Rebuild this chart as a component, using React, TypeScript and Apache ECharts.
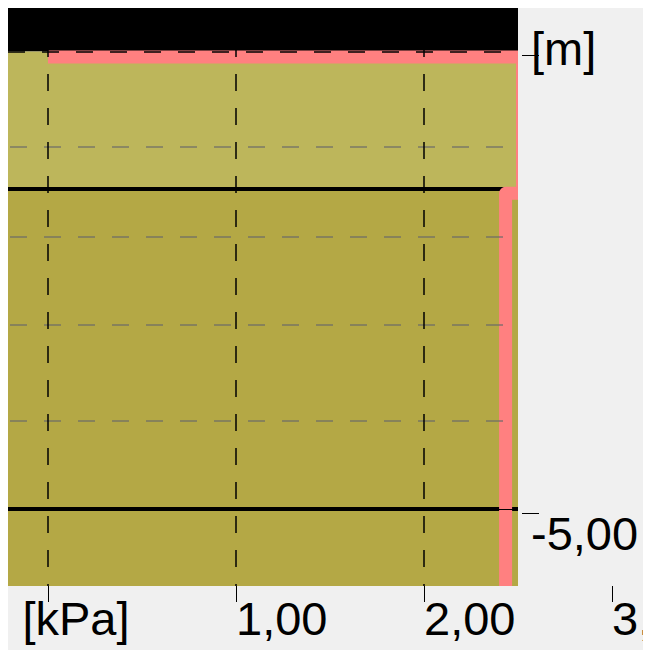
import React, { useEffect, useRef } from 'react';
import * as echarts from 'echarts';

// axis ranges (data units)
const xRange = [-0.2128, 2.5];
const xAxisExtentMax = 3.2021;
const yRange = [-5.84, 0.475];

// ticks & labels
const xTickValues = [0, 1, 2, 3];
const xLabelValues = [1, 2, 3];
const xUnitValue = [0];
const xUnit = '[kPa]';
const yTickValues = [0, -5];
const yLabelValues = [-5];
const yUnitValue = [0];
const yUnit = '[m]';

// grid lines
const xGridValues = [0, 1, 2];
const yGridBlack = [0];
const yGridGray = [-1.04, -2.02, -2.99, -4.03];
const yThinSolid = [-5];

// soil layers
const aboveGround = [0, 0.475];
const layerTops = [0, -1.5];
const layerBottoms = [-1.5, -5.84];
const layerBoundaries = [-1.5, -5];

// pressure diagram
const pressureValue = [0, 2.524, 2.524, 2.434, 2.434];
const pressureDepth = [-0.06, -0.06, -1.55, -1.55, -6.5];

const layerColors = ['#bdb65b', '#b4a845'];
const font = "'Liberation Sans', Arial, sans-serif";

const fmt = (v: number) => v.toFixed(2).replace('.', ',');

export default function App() {
  const ref = useRef<HTMLDivElement>(null);
  useEffect(() => {
    document.documentElement.style.overflow = 'hidden';
    document.body.style.overflow = 'hidden';
    const chart = echarts.init(ref.current!, null, { renderer: 'svg' });
    const labelBase = { color: '#000', fontSize: 47, fontFamily: font };
    const gridBase = { outerBoundsMode: 'none', containLabel: false };
    const noLine = { show: false, onZero: false };
    const option: any = {
      animation: false,
      backgroundColor: '#f0f0f0',
      grid: [
        { ...gridBase, left: 0, top: 0, width: 510, height: 578 },
        { ...gridBase, left: 0, top: 0, width: 642, height: 578 },
        { ...gridBase, left: 4, top: 4, width: 510, height: 578 },
      ],
      xAxis: [
        { gridIndex: 0, type: 'value', min: xRange[0], max: xRange[1], show: false, axisLine: noLine },
        {
          gridIndex: 1, type: 'value', position: 'bottom', min: xRange[0], max: xAxisExtentMax,
          axisLine: noLine, splitLine: { show: false },
          axisTick: { show: true, inside: false, length: 16, customValues: xTickValues, lineStyle: { color: '#000', width: 1 } },
          axisLabel: { ...labelBase, customValues: xLabelValues, formatter: fmt, align: 'left', verticalAlign: 'top', margin: 9 },
        },
        {
          gridIndex: 1, type: 'value', position: 'bottom', offset: 0, min: xRange[0], max: xAxisExtentMax,
          axisLine: noLine, splitLine: { show: false }, axisTick: { show: false },
          axisLabel: { ...labelBase, customValues: xUnitValue, formatter: () => xUnit, align: 'center', verticalAlign: 'top', margin: 9, padding: [0, 0, 0, 56] },
        },
        { gridIndex: 2, type: 'value', min: xRange[0], max: xRange[1], show: false, axisLine: noLine },
      ],
      yAxis: [
        { gridIndex: 0, type: 'value', min: yRange[0], max: yRange[1], show: false, axisLine: noLine },
        { gridIndex: 1, type: 'value', min: yRange[0], max: yRange[1], show: false, axisLine: noLine },
        {
          gridIndex: 2, type: 'value', position: 'right', offset: 0, min: yRange[0], max: yRange[1],
          axisLine: noLine, splitLine: { show: false },
          axisTick: { show: true, inside: false, length: 17, customValues: yTickValues, lineStyle: { color: '#000', width: 1 } },
          axisLabel: { ...labelBase, customValues: yLabelValues, formatter: fmt, align: 'left', verticalAlign: 'top', lineHeight: 40, margin: 9 },
        },
        {
          gridIndex: 2, type: 'value', position: 'right', offset: 0, min: yRange[0], max: yRange[1],
          axisLine: noLine, splitLine: { show: false }, axisTick: { show: false },
          axisLabel: { ...labelBase, customValues: yUnitValue, formatter: () => yUnit, align: 'left', verticalAlign: 'bottom', lineHeight: 13, margin: 9 },
        },
      ],
      series: [
        {
          type: 'line', xAxisIndex: 0, yAxisIndex: 0, data: [], z: 1,
          markArea: {
            silent: true, z: 1,
            data: [
              [{ yAxis: aboveGround[0], itemStyle: { color: '#000', borderWidth: 0 } }, { yAxis: aboveGround[1] }],
              ...layerTops.map((t, i) => [
                { yAxis: t, itemStyle: { color: layerColors[i], borderWidth: 0 } },
                { yAxis: layerBottoms[i] },
              ]),
            ],
          },
        },
        {
          type: 'line', xAxisIndex: 0, yAxisIndex: 0, data: [], z: 2,
          markLine: {
            silent: true, z: 2, symbol: ['none', 'none'], label: { show: false },
            lineStyle: { color: '#000', width: 4, type: 'solid' },
            data: layerBoundaries.map((v) => ({ yAxis: v })),
          },
        },
        {
          type: 'custom', xAxisIndex: 0, yAxisIndex: 0, z: 3, clip: true,
          data: [[pressureValue[0], pressureDepth[0]]],
          renderItem: (params: any, api: any) => {
            if (params.dataIndex !== 0) return null;
            const pts = pressureValue.map((x, i) => api.coord([x, pressureDepth[i]]));
            return {
              type: 'polyline',
              shape: { points: pts },
              style: { stroke: '#ff8080', lineWidth: 13, lineJoin: 'round', lineCap: 'butt', fill: null },
              silent: true,
            };
          },
        },
        {
          type: 'line', xAxisIndex: 0, yAxisIndex: 0, data: [], z: 4,
          markLine: {
            silent: true, z: 4, symbol: ['none', 'none'], label: { show: false },
            data: [
              ...yGridGray.map((v) => ({ yAxis: v, lineStyle: { color: 'rgba(105,105,105,0.6)', width: 2, type: [17, 17], dashOffset: 32 } })),
              ...yGridBlack.map((v) => ({ yAxis: v, lineStyle: { color: '#000', width: 1.5, type: [17, 17], dashOffset: 0 } })),
              ...xGridValues.map((v) => ({ xAxis: v, lineStyle: { color: '#000', width: 1.5, type: [17, 17], dashOffset: 15 } })),
              ...yThinSolid.map((v) => ({ yAxis: v, lineStyle: { color: '#000', width: 1, type: 'solid' } })),
            ],
          },
        },
      ],
    };
    chart.setOption(option);
    return () => chart.dispose();
  }, []);
  return <div ref={ref} style={{ width: 643, height: 642 }} />;
}
